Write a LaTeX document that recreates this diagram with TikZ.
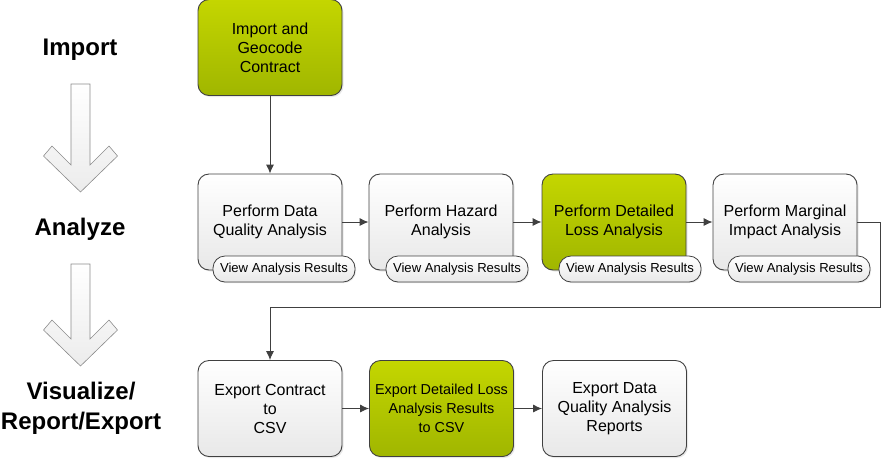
\documentclass[tikz,border=0pt]{standalone}
\usepackage{fontspec}
\setmainfont{Liberation Sans}
\usetikzlibrary{arrows.meta,shadows}

\definecolor{limetop}{RGB}{196,214,0}
\definecolor{limebot}{RGB}{160,182,0}
\definecolor{edge}{RGB}{64,64,64}
\definecolor{greybot}{RGB}{232,232,232}

\tikzset{
  stepbox/.style={draw=edge, line width=0.9pt, rounded corners=11pt, minimum width=144pt,
    minimum height=96pt, align=center, top color=white, bottom color=greybot,
    font=\fontsize{16}{19}\selectfont, drop shadow={opacity=0.18, shadow xshift=1.5pt, shadow yshift=-1.5pt}},
  keybox/.style={stepbox, top color=limetop, bottom color=limebot},
  pill/.style={draw=edge, line width=0.8pt, rounded corners=12pt, minimum width=142pt,
    minimum height=26pt, inner sep=0pt, top color=white, bottom color=greybot,
    font=\fontsize{13.1}{15}\selectfont, drop shadow={opacity=0.18, shadow xshift=1pt, shadow yshift=-1pt}},
  phase/.style={font=\fontsize{24}{30}\selectfont\bfseries, align=center},
  flow/.style={draw=edge, line width=0.9pt, -{Latex[length=9pt,width=8pt]}}
}

\begin{document}
\begin{tikzpicture}[x=1pt, y=-1pt, auto]
    \useasboundingbox (0,0) rectangle (882,459);

    \node[phase] (imp) at (80,49.5) {Import};
    \node[phase] (ana) at (80,229.5) {Analyze};
    \node[phase] (vis) at (81,408.5) {Visualize/\\Report/Export};

    \foreach \top/\tip in {84/192, 264/366}
      \draw[draw=gray!90, line width=0.6pt, top color=white, bottom color=gray!15]
        (71,\top) -- (90,\top) -- (90,{\tip-27}) -- (109,{\tip-46}) -- (117.5,{\tip-36})
        -- (80.5,\tip) -- (43.5,{\tip-36}) -- (52,{\tip-46}) -- (71,{\tip-27}) -- cycle;

    \node[keybox] (geo) at (270,47.5) {Import and\\Geocode\\Contract};

    \node[stepbox] (dq) at (270,222) {Perform Data\\Quality Analysis};
    \node[stepbox] (hz) at (441,222) {Perform Hazard\\Analysis};
    \node[keybox] (dl) at (614,222) {Perform Detailed\\Loss Analysis};
    \node[stepbox] (mi) at (785,222) {Perform Marginal\\Impact Analysis};

    \node[pill] (vdq) at (284,269) {View Analysis Results};
    \node[pill] (vhz) at (457,269) {View Analysis Results};
    \node[pill] (vdl) at (630,269) {View Analysis Results};
    \node[pill] (vmi) at (799,269) {View Analysis Results};

    \node[stepbox] (csv) at (270,408.5) {Export Contract\\to\\CSV};
    \node[keybox, font=\fontsize{14.4}{19}\selectfont] (dlcsv) at (441.5,408.5) {Export Detailed Loss\\Analysis Results\\to CSV};
    \node[stepbox] (rep) at (614.5,408.5) {Export Data\\Quality Analysis\\Reports};

    \coordinate (turn) at (880,307);

    \draw [flow] (geo) to (dq);
    \draw [flow] (dq) to (hz);
    \draw [flow] (hz) to (dl);
    \draw [flow] (dl) to (mi);
    \draw [flow] (mi.east) -| (turn) -| (csv.north);
    \draw [flow] (csv) to (dlcsv);
    \draw [flow] (dlcsv) to (rep);

\end{tikzpicture}
\end{document}
